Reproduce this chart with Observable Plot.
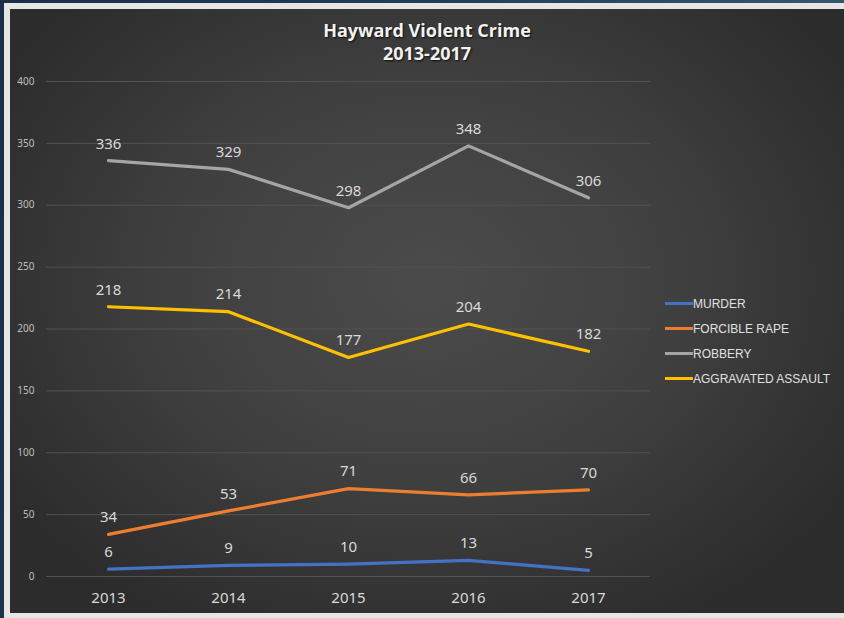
<!DOCTYPE html>
<html>
<head>
<meta charset="utf-8">
<script src="https://cdn.jsdelivr.net/npm/d3@7"></script>
<script src="https://cdn.jsdelivr.net/npm/@observablehq/plot@0.6"></script>
<style>
  html, body { margin: 0; padding: 0; }
  body {
    width: 844px; height: 618px; overflow: hidden; position: relative;
    background: linear-gradient(100deg, #1a2f45 0%, #243f57 50%, #3a6070 100%);
    font-family: "Liberation Sans", Arial, sans-serif;
  }
  #frame {
    position: absolute; left: 4px; top: 3px; width: 850px; height: 615px;
    background: #e6e6e6;
  }
  #panel {
    position: absolute; left: 10px; top: 9px; width: 834px; height: 604px;
    background: radial-gradient(ellipse 60% 65% at 50% 45%, #4b4b4b 0%, #404040 50%, #2c2c2c 100%);
    overflow: hidden;
  }
  #title {
    height: 57px; text-align: center; color: #f2f2f2;
    font-family: "Open Sans", "DejaVu Sans", sans-serif; font-weight: 700;
    font-size: 18px; line-height: 23px; box-sizing: border-box;
    padding-top: 10px;
    text-shadow: 1px 1px 2px rgba(0,0,0,0.8);
  }
  #chart { position: absolute; left: 0; top: 57px; }
  #legend {
    position: absolute; left: 655px; top: 282px;
    color: #e0e0e0; font-family: "Liberation Sans Narrow", "Liberation Sans", Arial, sans-serif;
    font-size: 12px;
  }
  .item { height: 25px; display: flex; align-items: center; }
  .swatch { width: 28px; height: 3px; }
</style>
</head>
<body>
<div id="frame"></div>
<div id="panel">
  <div id="title">Hayward Violent Crime<br>2013-2017</div>
  <div id="chart"></div>
  <div id="legend"></div>
</div>
<script>
const years = ["2013", "2014", "2015", "2016", "2017"];
const seriesNames = ["MURDER", "FORCIBLE RAPE", "ROBBERY", "AGGRAVATED ASSAULT"];
const murder = [6, 9, 10, 13, 5];
const forcibleRape = [34, 53, 71, 66, 70];
const robbery = [336, 329, 298, 348, 306];
const aggravatedAssault = [218, 214, 177, 204, 182];
const yTicks = [0, 50, 100, 150, 200, 250, 300, 350, 400];
const colors = ["#4472c4", "#ed7d31", "#a5a5a5", "#ffc000"];

const seriesValues = [murder, forcibleRape, robbery, aggravatedAssault];
const data = [];
seriesNames.forEach((s, i) => {
  years.forEach((y, j) => data.push({series: s, year: y, value: seriesValues[i][j]}));
});

const chart = Plot.plot({
  width: 655,
  height: 546,
  marginLeft: 36,
  marginRight: 15,
  marginTop: 15,
  marginBottom: 36,
  style: {background: "transparent", color: "#bfbfbf", overflow: "visible"},
  x: {type: "point", domain: years, padding: 0.5, label: null},
  y: {domain: [0, 400], ticks: yTicks, label: null},
  color: {domain: seriesNames, range: colors},
  marks: [
    Plot.gridY(yTicks, {stroke: "#525252", strokeOpacity: 1, strokeWidth: 1}),
    Plot.axisY(yTicks, {tickSize: 0, tickPadding: 12, fontSize: 10, fill: "#bfbfbf", label: null}),
    Plot.axisX({tickSize: 0, tickPadding: 16, fontSize: 15, fill: "#d9d9d9", label: null}),
    Plot.line(data, {x: "year", y: "value", z: "series", stroke: "series", strokeWidth: 3.2, strokeLinecap: "round", strokeLinejoin: "round"}),
    Plot.text(data, {x: "year", y: "value", text: d => String(d.value), dy: -17, fontSize: 15, fill: "#d9d9d9"})
  ]
});
document.getElementById("chart").appendChild(chart);

const legend = document.getElementById("legend");
seriesNames.forEach((s, i) => {
  const item = document.createElement("div");
  item.className = "item";
  const sw = document.createElement("span");
  sw.className = "swatch";
  sw.style.background = colors[i];
  const label = document.createElement("span");
  label.textContent = s;
  item.appendChild(sw);
  item.appendChild(label);
  legend.appendChild(item);
});
</script>
</body>
</html>
